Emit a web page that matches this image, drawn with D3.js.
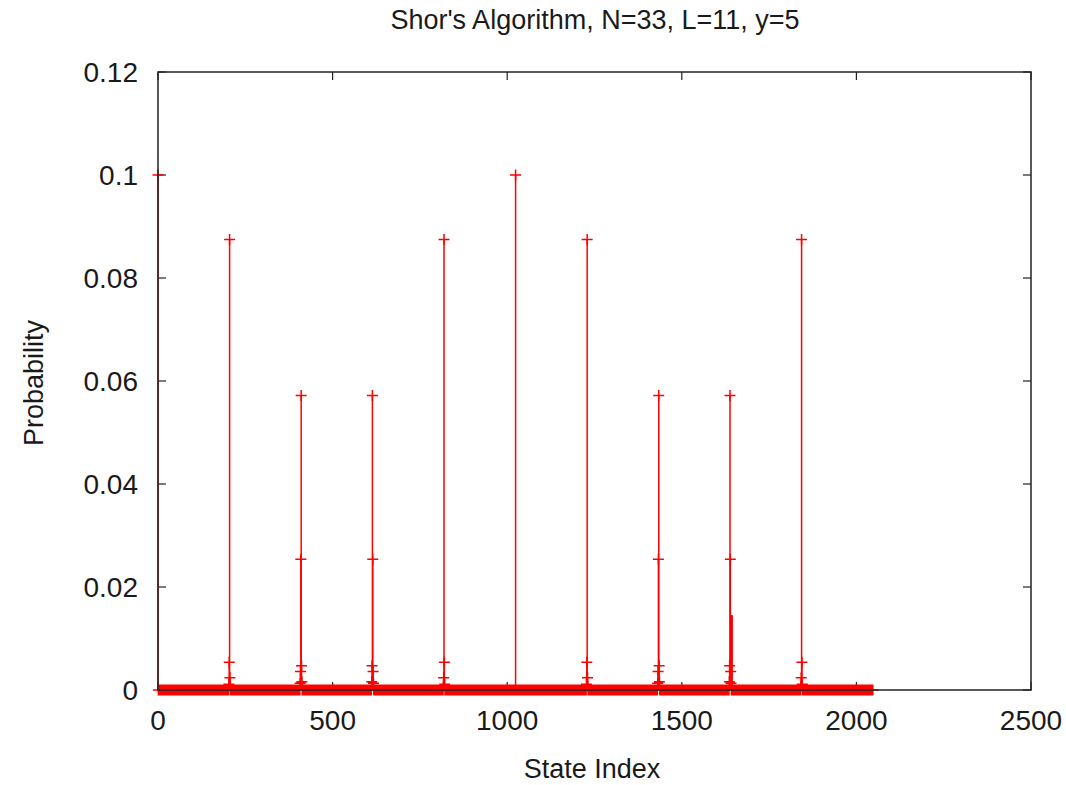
<!DOCTYPE html>
<html>
<head>
<meta charset="utf-8">
<script src="https://cdn.jsdelivr.net/npm/d3@7"></script>
<style>
  html, body { margin: 0; padding: 0; background: #fff; }
  svg { display: block; }
  text { font-family: "Liberation Sans", Arial, sans-serif; fill: #1a1a1a; }
</style>
</head>
<body>
<svg id="chart" width="1066" height="785"></svg>
<script>
// ---- data ----
const chartTitle = "Shor's Algorithm, N=33, L=11, y=5";
const xLabel = "State Index";
const yLabel = "Probability";
const xTickValues = [0, 500, 1000, 1500, 2000, 2500];
const xTickLabels = ["0", "500", "1000", "1500", "2000", "2500"];
const yTickValues = [0, 0.02, 0.04, 0.06, 0.08, 0.1, 0.12];
const yTickLabels = ["0", "0.02", "0.04", "0.06", "0.08", "0.1", "0.12"];
const stateCount = 2048; // states 0..2047, all others read as ~0
const peakStates = [
  0,
  203, 204, 205, 206, 207,
  407, 408, 409, 410, 411, 412,
  612, 613, 614, 615, 616, 617,
  817, 818, 819, 820, 821,
  1024,
  1227, 1228, 1229, 1230, 1231,
  1431, 1432, 1433, 1434, 1435, 1436,
  1636, 1637, 1638, 1639, 1640, 1641,
  1841, 1842, 1843, 1844, 1845
];
const peakProbs = [
  0.1,
  0.0011, 0.0054, 0.0875, 0.0024, 0.0007,
  0.0013, 0.0036, 0.0254, 0.0572, 0.0047, 0.0016,
  0.0016, 0.0047, 0.0572, 0.0254, 0.0036, 0.0013,
  0.0007, 0.0024, 0.0875, 0.0054, 0.0011,
  0.1,
  0.0011, 0.0054, 0.0875, 0.0024, 0.0007,
  0.0013, 0.0036, 0.0254, 0.0572, 0.0047, 0.0016,
  0.0016, 0.0047, 0.0572, 0.0254, 0.0036, 0.0013,
  0.0007, 0.0024, 0.0875, 0.0054, 0.0011
];
// extra thick impulse segment visible near state 1640 (no markers)
const spikeStates = [1640, 1641, 1642, 1643, 1644];
const spikeProbs = [0.0145, 0.0145, 0.0145, 0.0145, 0.0145];

// ---- layout ----
const plot = { left: 158, right: 1031, top: 72, bottom: 690 };
const svg = d3.select("#chart");

const x = d3.scaleLinear().domain([0, 2500]).range([plot.left, plot.right]);
const y = d3.scaleLinear().domain([0, 0.12]).range([plot.bottom, plot.top]);

const probMap = new Map(peakStates.map((s, i) => [s, peakProbs[i]]));
const data = d3.range(stateCount).map(s => ({ state: s, p: probMap.has(s) ? probMap.get(s) : 0 }));

const tickLen = 8;
const axisColor = "#222";

// ---- ticks (drawn under data) ----
const tickG = svg.append("g").attr("stroke", axisColor).attr("stroke-width", 1.2);
xTickValues.forEach(v => {
  tickG.append("line").attr("x1", x(v)).attr("x2", x(v)).attr("y1", plot.bottom).attr("y2", plot.bottom - tickLen);
  tickG.append("line").attr("x1", x(v)).attr("x2", x(v)).attr("y1", plot.top).attr("y2", plot.top + tickLen);
});
yTickValues.forEach(v => {
  tickG.append("line").attr("x1", plot.left).attr("x2", plot.left + tickLen).attr("y1", y(v)).attr("y2", y(v));
  tickG.append("line").attr("x1", plot.right).attr("x2", plot.right - tickLen).attr("y1", y(v)).attr("y2", y(v));
});

// ---- data: impulses + markers ----
const red = "#ff0000";
const dataG = svg.append("g");
dataG.selectAll("line.imp")
  .data(data.filter(d => d.p > 0))
  .join("line")
  .attr("class", "imp")
  .attr("x1", d => x(d.state)).attr("x2", d => x(d.state))
  .attr("y1", y(0)).attr("y2", d => y(d.p))
  .attr("stroke", red).attr("stroke-width", 1.5);

dataG.selectAll("line.spike")
  .data(spikeStates.map((s, i) => ({ state: s, p: spikeProbs[i] })))
  .join("line")
  .attr("class", "spike")
  .attr("x1", d => x(d.state)).attr("x2", d => x(d.state))
  .attr("y1", y(0)).attr("y2", d => y(d.p))
  .attr("stroke", red).attr("stroke-width", 1.5);

const ms = 5.5;
dataG.append("path")
  .attr("d", data.map(d => {
    const cx = x(d.state), cy = y(d.p);
    return `M${cx - ms},${cy}h${2 * ms}M${cx},${cy - ms}v${2 * ms}`;
  }).join(""))
  .attr("fill", "none")
  .attr("stroke", red)
  .attr("stroke-width", 1.5);

// ---- border on top ----
svg.append("rect")
  .attr("x", plot.left).attr("y", plot.top)
  .attr("width", plot.right - plot.left).attr("height", plot.bottom - plot.top)
  .attr("fill", "none").attr("stroke", axisColor).attr("stroke-width", 1.5);

// ---- tick labels ----
const fs = 28;
svg.append("g").selectAll("text")
  .data(xTickValues)
  .join("text")
  .attr("x", d => x(d)).attr("y", 730)
  .attr("text-anchor", "middle")
  .style("font-size", fs + "px")
  .text((d, i) => xTickLabels[i]);

svg.append("g").selectAll("text")
  .data(yTickValues)
  .join("text")
  .attr("x", 138).attr("y", d => y(d) + 10)
  .attr("text-anchor", "end")
  .style("font-size", fs + "px")
  .text((d, i) => yTickLabels[i]);

// ---- titles ----
const lfs = 27;
svg.append("text")
  .attr("x", 595).attr("y", 29)
  .attr("text-anchor", "middle")
  .style("font-size", lfs + "px")
  .text(chartTitle);

svg.append("text")
  .attr("x", 592).attr("y", 778)
  .attr("text-anchor", "middle")
  .style("font-size", lfs + "px")
  .text(xLabel);

svg.append("text")
  .attr("transform", "translate(43,383) rotate(-90)")
  .attr("text-anchor", "middle")
  .style("font-size", lfs + "px")
  .text(yLabel);
</script>
</body>
</html>
